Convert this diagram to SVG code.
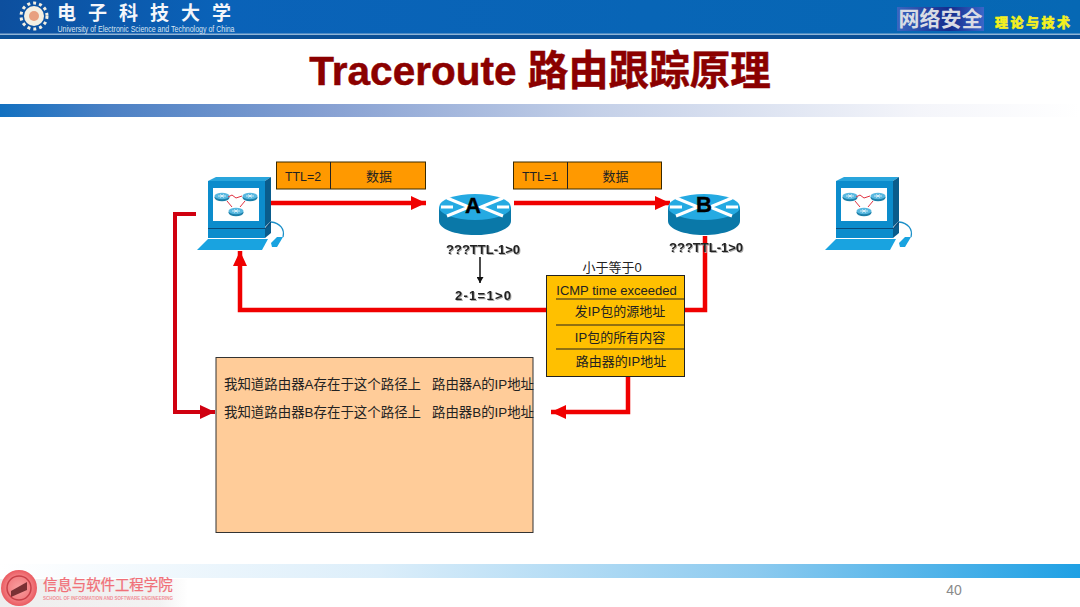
<svg xmlns="http://www.w3.org/2000/svg" width="1080" height="607" viewBox="0 0 1080 607">
<style>
.cjk{font-family:"Liberation Sans","Noto Sans CJK SC",sans-serif}
.pkt{fill:#ff9900;stroke:#3a2a00;stroke-width:1}
.t13{font-size:13px;fill:#222;text-anchor:middle}
.b12{font-size:13px;font-weight:700;fill:#222;text-anchor:middle;filter:drop-shadow(1px 1px .6px #aaa)}
.red{fill:none;stroke:#f00000;stroke-width:4.500}
.dred{fill:none;stroke:#d00010;stroke-width:4}
.rl{font-size:22px;font-weight:700;fill:#000;text-anchor:middle;stroke:#000;stroke-width:.4}
.sep{stroke:#222;stroke-width:1}
</style>
<defs>
<linearGradient id="hdr" x1="0" x2="1" y1="0" y2="0"><stop offset="0" stop-color="#0d4f9e"/><stop offset=".2" stop-color="#0a62b8"/><stop offset="1" stop-color="#0668b4"/></linearGradient>
<linearGradient id="bar" x1="0" x2="1" y1="0" y2="0"><stop offset="0" stop-color="#1270c0"/><stop offset=".1" stop-color="#4b80c4"/><stop offset=".3" stop-color="#86a0d2"/><stop offset=".55" stop-color="#c4d0e8"/><stop offset=".85" stop-color="#f4f5fa"/><stop offset="1" stop-color="#ffffff"/></linearGradient>
<linearGradient id="foot" x1="0" x2="1" y1="0" y2="0"><stop offset="0" stop-color="#ffffff"/><stop offset=".35" stop-color="#dceefa"/><stop offset=".7" stop-color="#8ccaef"/><stop offset="1" stop-color="#1fa0e4"/></linearGradient>
<linearGradient id="net" x1="0" x2="1" y1="0" y2="0"><stop offset="0" stop-color="#3a66c0"/><stop offset=".6" stop-color="#142c8c"/><stop offset="1" stop-color="#3a66c8"/></linearGradient>
<radialGradient id="seal"><stop offset="0" stop-color="#f9a0a0"/><stop offset=".7" stop-color="#f27c80"/><stop offset="1" stop-color="#ea5a60"/></radialGradient>
<linearGradient id="fade" x1="0" x2="1" y1="0" y2="0"><stop offset="0" stop-color="#ddd"/><stop offset=".85" stop-color="#e6e6e6"/><stop offset="1" stop-color="#fff"/></linearGradient>
<marker id="ah" markerUnits="userSpaceOnUse" markerWidth="15" markerHeight="14" refX="15" refY="7" orient="auto"><path d="M0 0L15 7L0 14z" fill="#f00000"/></marker>
<marker id="ahd" markerUnits="userSpaceOnUse" markerWidth="15" markerHeight="14" refX="15" refY="7" orient="auto"><path d="M0 0L15 7L0 14z" fill="#d00010"/></marker>
<marker id="ahk" markerUnits="userSpaceOnUse" markerWidth="7" markerHeight="7" refX="6" refY="3.5" orient="auto"><path d="M0 0L6 3.500L0 7z" fill="#111"/></marker>
<g id="miniR"><ellipse cx="0" cy="1.500" rx="7.500" ry="3.800" fill="#1d7fa8"/><ellipse cx="0" cy="0" rx="7.500" ry="3.200" fill="#58b8e0"/><path d="M-4 0H4M-2-1.500L2 1.500M2-1.500L-2 1.500" stroke="#fff" stroke-width=".7"/></g>
<g id="pc">
<path d="M12 4L20 0H75L69 4z" fill="#29a5dc"/>
<path d="M69 4L75 0V44L69 50z" fill="#0a5c8c"/>
<rect x="12" y="4" width="57" height="47" fill="#0c8ccc"/>
<rect x="17" y="11" width="46" height="33" fill="#fff"/>
<use href="#miniR" x="26" y="19"/><use href="#miniR" x="54" y="19"/><use href="#miniR" x="40" y="34"/>
<path d="M32 20L36 18L40 21L46 19M31 24L36 30M49 24L44 30" stroke="#e03040" stroke-width="1" fill="none"/>
<path d="M12 51H69L75 44V49L69 54H12z" fill="#0a4a78"/>
<rect x="12" y="52" width="57" height="9" fill="#0c8ccc"/>
<path d="M69 52L75 47V56L69 61z" fill="#0a5c8c"/>
<path d="M12 62H72L66 73H1z" fill="#19a3e0"/>
<path d="M75 45C84 46 89 52 87 60" fill="none" stroke="#1b8fc8" stroke-width="1.300"/>
<path d="M75 66L81 60H87L81 70H76z" fill="#19a3e0"/>
</g>
<g id="router">
<path d="M0 13V27C0 35 16 41 36 41S72 35 72 27V13z" fill="#0a78a8"/>
<ellipse cx="36" cy="13" rx="36" ry="13" fill="#25aae2"/>
<path d="M8 4L30 13L8 22M64 4L42 13L64 22M14 13H2M58 13H70" fill="none" stroke="#fff" stroke-width="3"/>
</g>
</defs>

<g id="header">
<rect width="1080" height="39" fill="url(#hdr)"/>
<rect y="33.500" width="1080" height="1.500" fill="#8fb4d6"/>
<rect y="35" width="1080" height="4" fill="#0a4f96"/>
<circle cx="34" cy="16" r="13" fill="none" stroke="#f4efe2" stroke-width="3" stroke-dasharray="3 3"/>
<circle cx="34" cy="16" r="10" fill="#f4efe2"/>
<circle cx="34" cy="16" r="5" fill="#e8a080"/>
<text x="57" y="20" font-size="19" font-weight="700" fill="#f4f6fa" letter-spacing="12" style="font-family:'Noto Sans CJK SC',sans-serif">电子科技大学</text>
<text x="57.500" y="32" font-family="'Liberation Sans',sans-serif" font-size="9.500" fill="#d8e4f0" textLength="177" lengthAdjust="spacingAndGlyphs">University of Electronic Science and Technology of China</text>
<rect x="897" y="7" width="87" height="24" fill="url(#net)"/>
<text x="940.500" y="26" font-family="'Noto Sans CJK SC',sans-serif" font-size="21" font-weight="700" fill="#d8dce4" text-anchor="middle">网络安全</text>
<text x="995" y="27" font-family="'Noto Sans CJK SC',sans-serif" font-size="13" font-weight="900" fill="#f4f020" stroke="#f4f020" stroke-width=".5" letter-spacing="2.500">理论与技术</text>
</g>

<text id="title" x="540" y="85" class="cjk" font-size="40.500" font-weight="700" fill="#8b0000" stroke="#8b0000" stroke-width=".5" text-anchor="middle">Traceroute 路由跟踪原理</text>
<rect id="topbar" y="104" width="1080" height="13" fill="url(#bar)"/>

<g id="footer">
<rect y="564" width="1080" height="14" fill="url(#foot)"/>
<rect x="0" y="579" width="188" height="28" fill="url(#fade)" opacity=".5"/>
<circle cx="19" cy="588" r="18" fill="url(#seal)"/>
<circle cx="19" cy="588" r="12" fill="none" stroke="#c84048" stroke-width="1.500"/>
<path d="M11 591L27 582V590L11 597z" fill="#7a3034"/>
<text x="43" y="590" font-family="'Noto Sans CJK SC',sans-serif" font-size="14.400" fill="#f07078" stroke="#f07078" stroke-width=".25">信息与软件工程学院</text>
<text x="43" y="600" font-family="'Liberation Sans',sans-serif" font-size="4.500" font-weight="700" fill="#f09098" textLength="130" lengthAdjust="spacingAndGlyphs">SCHOOL OF INFORMATION AND SOFTWARE ENGINEERING</text>
<text x="954" y="595" font-family="'Liberation Sans',sans-serif" font-size="14" fill="#8a8a8a" text-anchor="middle">40</text>
</g>

<g id="connectors">
<path class="red" d="M271 203H426" marker-end="url(#ah)"/>
<path class="red" d="M514 203H670" marker-end="url(#ah)"/>
<path class="red" d="M705 236V310H240V251" marker-end="url(#ah)"/>
<path class="dred" d="M196 214H175V412H215" marker-end="url(#ahd)"/>
<path class="red" d="M628 376V412H551" marker-end="url(#ah)"/>
<path d="M480 257V283" fill="none" stroke="#111" stroke-width="1.500" marker-end="url(#ahk)"/>
</g>

<g id="pc-left"><use href="#pc" x="196" y="177"/></g>
<g id="pc-right"><use href="#pc" x="824" y="177"/></g>
<g id="router-a"><use href="#router" x="439" y="194"/><text x="473" y="213" class="cjk rl">A</text></g>
<g id="router-b"><use href="#router" x="668" y="194"/><text x="704" y="212" class="cjk rl">B</text></g>

<g id="packet-1">
<rect class="pkt" x="276.500" y="162" width="149" height="27"/><path class="sep" d="M330.500 162V189"/>
<text x="303" y="181" class="cjk t13" textLength="36" lengthAdjust="spacingAndGlyphs">TTL=2</text><text x="379" y="181" class="cjk t13">数据</text>
</g>
<g id="packet-2">
<rect class="pkt" x="513.500" y="162" width="148" height="27"/><path class="sep" d="M567.500 162V189"/>
<text x="540" y="181" class="cjk t13" textLength="36" lengthAdjust="spacingAndGlyphs">TTL=1</text><text x="615.500" y="181" class="cjk t13">数据</text>
</g>

<text id="label-a" x="483" y="254" class="cjk b12" textLength="74">???TTL-1&gt;0</text>
<text id="label-b" x="706" y="252" class="cjk b12" textLength="74">???TTL-1&gt;0</text>
<text id="label-calc" x="483" y="300" class="cjk b12" textLength="56">2-1=1&gt;0</text>
<text id="label-le" x="612" y="272" class="cjk t13">小于等于0</text>

<g id="icmp-box">
<rect x="546.500" y="275.500" width="138" height="101" fill="#ffc000" stroke="#222" stroke-width="1"/>
<path class="sep" d="M556 299H684M556 325H684M556 349H684"/>
<text x="616.500" y="295" class="cjk t13">ICMP time exceeded</text>
<text x="620" y="316" class="cjk t13">发IP包的源地址</text>
<text x="620" y="342" class="cjk t13">IP包的所有内容</text>
<text x="621" y="366" class="cjk t13">路由器的IP地址</text>
</g>

<g id="table-box">
<rect x="216" y="357.500" width="317" height="175" fill="#ffcc99" stroke="#333" stroke-width="1"/>
<text x="224" y="389" class="cjk" font-size="13.400" fill="#222" textLength="197" lengthAdjust="spacingAndGlyphs">我知道路由器A存在于这个路径上</text>
<text x="432" y="389" class="cjk" font-size="13.400" fill="#222" textLength="102" lengthAdjust="spacingAndGlyphs">路由器A的IP地址</text>
<text x="224" y="417" class="cjk" font-size="13.400" fill="#222" textLength="197" lengthAdjust="spacingAndGlyphs">我知道路由器B存在于这个路径上</text>
<text x="432" y="417" class="cjk" font-size="13.400" fill="#222" textLength="102" lengthAdjust="spacingAndGlyphs">路由器B的IP地址</text>
</g>
</svg>
